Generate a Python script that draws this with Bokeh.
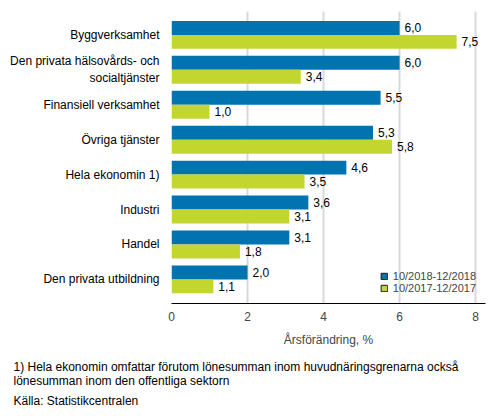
from bokeh.plotting import figure
from bokeh.models import ColumnDataSource, Range1d, FixedTicker, Legend, LegendItem, Title
from bokeh.embed import file_html
from bokeh.resources import INLINE
from bokeh.core.properties import value

# data
categories = [
    "Byggverksamhet",
    "Den privata hälsovårds- och\nsocialtjänster",
    "Finansiell verksamhet",
    "Övriga tjänster",
    "Hela ekonomin 1)",
    "Industri",
    "Handel",
    "Den privata utbildning",
]
series_2018 = [6.0, 6.0, 5.5, 5.3, 4.6, 3.6, 3.1, 2.0]
series_2017 = [7.5, 3.4, 1.0, 5.8, 3.5, 3.1, 1.8, 1.1]
name_2018 = "10/2018-12/2018"
name_2017 = "10/2017-12/2017"
x_ticks = [0, 2, 4, 6, 8]
x_label = "Årsförändring, %"
footnote = ("1) Hela ekonomin omfattar förutom lönesumman inom huvudnäringsgrenarna också\n"
            "lönesumman inom den offentliga sektorn")
source_note = "Källa: Statistikcentralen"

BLUE = "#0073b0"
GREEN = "#c3d62f"
FONT = "Liberation Sans"

pos = list(range(len(categories)))


def fmt(v):
    return f"{v:.1f}".replace(".", ",")


src = ColumnDataSource(dict(
    y18=[p - 0.2 for p in pos], y17=[p + 0.2 for p in pos],
    v18=series_2018, v17=series_2017,
    t18=[fmt(v) for v in series_2018], t17=[fmt(v) for v in series_2017],
))

p = figure(width=493, height=416, output_backend="svg", toolbar_location=None,
           x_range=Range1d(0, 8.26), y_range=Range1d(7.69, -0.67),
           min_border_left=171, min_border_right=8, min_border_top=11,
           min_border_bottom=113)
p.outline_line_color = None

p.hbar(y="y18", right="v18", left=0, height=0.4, source=src,
       fill_color=BLUE, line_color=None)
p.hbar(y="y17", right="v17", left=0, height=0.4, source=src,
       fill_color=GREEN, line_color=None)

for ycol, vcol, tcol in [("y18", "v18", "t18"), ("y17", "v17", "t17")]:
    p.text(x=vcol, y=ycol, text=tcol, source=src, x_offset=5,
           text_baseline="middle", text_font=value(FONT),
           text_font_size="12px", text_color="#000000")

# legend swatches with a dark outline (NaN position -> nothing drawn in the plot)
swatch = ColumnDataSource(dict(y=[float("nan")], r=[float("nan")]))
l18 = p.hbar(y="y", right="r", height=0.4, source=swatch, fill_color=BLUE, line_color="#1a1a1a")
l17 = p.hbar(y="y", right="r", height=0.4, source=swatch, fill_color=GREEN, line_color="#1a1a1a")
legend = Legend(items=[LegendItem(label=name_2018, renderers=[l18]),
                       LegendItem(label=name_2017, renderers=[l17])],
                location="bottom_right", glyph_width=8, glyph_height=8,
                label_text_font=FONT, label_text_font_size="11px",
                label_standoff=5, spacing=0, padding=1, margin=9,
                background_fill_alpha=0, border_line_color=None,
                label_height=10)
p.add_layout(legend)

p.xaxis.ticker = FixedTicker(ticks=x_ticks)
p.xaxis.axis_label = x_label
p.xaxis.axis_label_text_font = FONT
p.xaxis.axis_label_text_font_size = "12px"
p.xaxis.axis_label_text_font_style = "normal"
p.xaxis.axis_label_standoff = 9
p.xaxis.major_label_text_font = FONT
p.xaxis.major_label_text_font_size = "12px"
p.xaxis.major_tick_line_color = None
p.xaxis.minor_tick_line_color = None
p.xaxis.major_label_standoff = 2
p.xaxis.axis_line_color = "#000000"

p.yaxis.ticker = FixedTicker(ticks=pos)
p.yaxis.major_label_overrides = {i: c for i, c in zip(pos, categories)}
p.yaxis.major_label_text_font = FONT
p.yaxis.major_label_text_font_size = "12px"
p.yaxis.major_label_text_color = "#000000"
p.yaxis.axis_line_color = None
p.yaxis.major_tick_line_color = None
p.yaxis.minor_tick_line_color = None
p.yaxis.major_label_standoff = 6

p.ygrid.grid_line_color = None
p.xgrid.grid_line_color = "#d9d9d9"
p.xgrid.grid_line_width = 2

# footnotes below the axis
for txt, standoff in [(footnote, 16), (source_note, -8)]:
    p.add_layout(Title(text=txt, align="left", offset=-158, standoff=standoff,
                       text_font=FONT, text_font_size="12px",
                       text_font_style="normal", text_color="#000000"), "below")

open("out.html", "w").write(file_html(p, INLINE))
